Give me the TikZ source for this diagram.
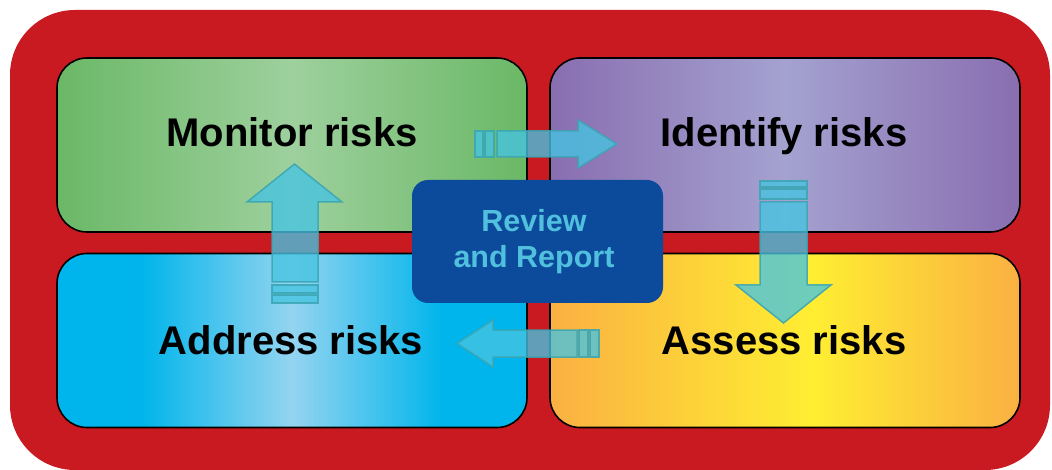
\documentclass[tikz,border=0pt]{standalone}
\usepackage{fontspec}
\setmainfont{Liberation Sans}
\definecolor{bgred}{RGB}{200,26,32}
\definecolor{gE}{RGB}{106,184,102}
\definecolor{gM}{RGB}{158,208,157}
\definecolor{pE}{RGB}{137,110,176}
\definecolor{pM}{RGB}{164,162,208}
\definecolor{bE}{RGB}{0,181,235}
\definecolor{bM}{RGB}{148,212,240}
\definecolor{yE}{RGB}{250,176,66}
\definecolor{yM}{RGB}{255,238,50}
\definecolor{rvfill}{RGB}{12,74,155}
\definecolor{rvtext}{RGB}{80,192,222}
\definecolor{arfill}{RGB}{70,196,226}
\definecolor{arline}{RGB}{58,165,178}
\pgfdeclarehorizontalshading{greenshade}{100bp}{color(0bp)=(gE); color(25bp)=(gE); color(50bp)=(gM); color(75bp)=(gE); color(100bp)=(gE)}
\pgfdeclarehorizontalshading{purpleshade}{100bp}{color(0bp)=(pE); color(25bp)=(pE); color(50bp)=(pM); color(75bp)=(pE); color(100bp)=(pE)}
\pgfdeclarehorizontalshading{blueshade}{100bp}{color(0bp)=(bE); color(25bp)=(bE); color(34bp)=(bE); color(50bp)=(bM); color(66bp)=(bE); color(75bp)=(bE); color(100bp)=(bE)}
\pgfdeclarehorizontalshading{yellowshade}{100bp}{color(0bp)=(yE); color(25bp)=(yE); color(53bp)=(yM); color(75bp)=(yE); color(100bp)=(yE)}
\begin{document}
\begin{tikzpicture}[x=1pt,y=-1pt,
  quad/.style={draw=black, line width=1.6pt, rounded corners=30pt, shade,
    minimum width=470pt, minimum height=174pt, inner sep=0pt},
  lbl/.style={font=\bfseries\fontsize{40}{48}\selectfont, text=black, anchor=base, inner sep=0pt},
  blockarrow/.style={fill=arfill, draw=arline, fill opacity=0.78, draw opacity=0.85, line width=1.5pt, line join=miter}]
\useasboundingbox (0,0) rectangle (1052,470);
\fill[white] (0,0) rectangle (1052,470);
\fill[bgred, rounded corners=65pt] (10,10) rectangle (1050,470);
\node[quad, shading=greenshade] (mon) at (292,145) {};
\node[quad, shading=purpleshade] (ide) at (785,145) {};
\node[quad, shading=blueshade] (add) at (292,340.5) {};
\node[quad, shading=yellowshade] (ass) at (785,340.5) {};
\node[lbl] (tmon) at (292,147) {Monitor risks};
\node[lbl] (tide) at (784,147) {Identify risks};
\node[lbl] (tadd) at (291,354) {Address risks};
\node[lbl] (tass) at (784,354) {Assess risks};
\node[fill=rvfill, rounded corners=16pt, minimum width=251pt, minimum height=123pt, inner sep=0pt] (rev) at (537.5,241.5) {};
\node[text=rvtext, align=center, inner sep=0pt, font=\bfseries\fontsize{30.5}{36}\selectfont] (trev) at (534,242) {Review\\and Report};
% right arrow (Monitor -> Identify)
\draw[blockarrow] (475,131) rectangle (483,157);
\draw[blockarrow] (485,131) rectangle (494,157);
\draw[blockarrow] (497,131) -- (578,131) -- (578,120) -- (617,144) -- (578,168) -- (578,157) -- (497,157) -- cycle;
% down arrow (Identify -> Assess)
\draw[blockarrow] (760,181) rectangle (807,187);
\draw[blockarrow] (760,189) rectangle (807,199);
\draw[blockarrow] (760,202) -- (760,285) -- (736,285) -- (783.5,323) -- (831,285) -- (807,285) -- (807,202) -- cycle;
% left arrow (Assess -> Address)
\draw[blockarrow] (599,330) rectangle (590,357);
\draw[blockarrow] (588,330) rectangle (579,357);
\draw[blockarrow] (577,330) -- (493,330) -- (493,320) -- (457,343.5) -- (493,367) -- (493,357) -- (577,357) -- cycle;
% up arrow (Address -> Monitor)
\draw[blockarrow] (272,303) rectangle (318,295);
\draw[blockarrow] (272,293) rectangle (318,285);
\draw[blockarrow] (272,282) -- (272,202) -- (247,202) -- (294.5,164) -- (342,202) -- (318,202) -- (318,282) -- cycle;
\end{tikzpicture}
\end{document}
